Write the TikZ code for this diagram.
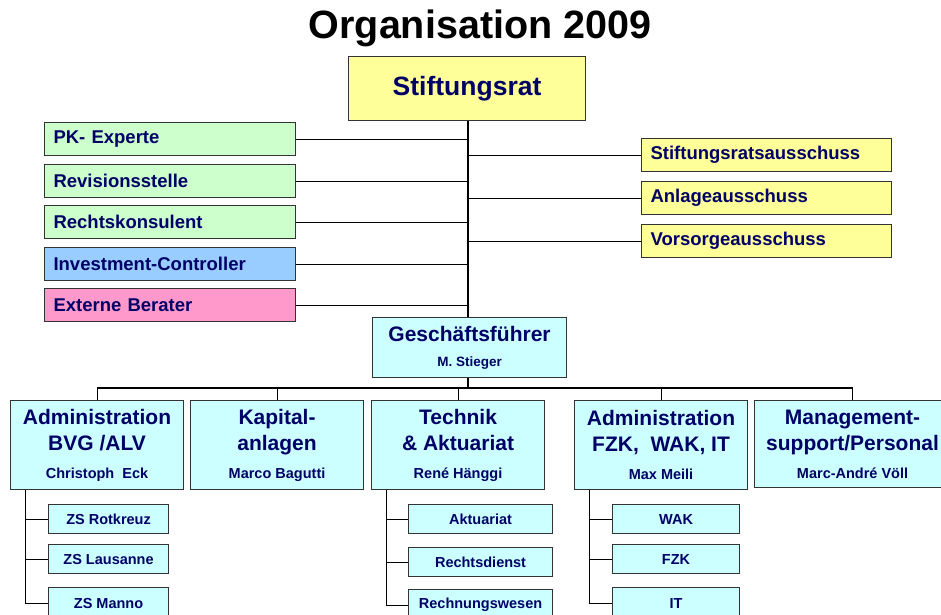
\documentclass[tikz,border=0pt]{standalone}
\usepackage{fontspec}
\setmainfont{Liberation Sans}
\definecolor{navy}{HTML}{000066}
\definecolor{boxyellow}{HTML}{FFFF99}
\definecolor{boxgreen}{HTML}{CCFFCC}
\definecolor{boxblue}{HTML}{99CCFF}
\definecolor{boxpink}{HTML}{FF99CC}
\definecolor{boxcyan}{HTML}{CCFFFF}
\definecolor{frame}{HTML}{333333}
\newcommand{\persfont}{\fontsize{14.5}{17}\selectfont}
\begin{document}
\begin{tikzpicture}[x=1pt,y=-1pt,
  box/.style={draw=frame, line width=1.1pt, text=navy, inner sep=0pt, anchor=north west},
  sidebox/.style={box, minimum height=33pt, inner xsep=9pt, text width=233pt, align=left,
    font=\fontsize{18.5}{21}\bfseries\selectfont},
  dept/.style={box, fill=boxcyan, minimum height=89pt, minimum width=173pt, align=center,
    font=\fontsize{21}{26}\bfseries\selectfont},
  sub/.style={box, fill=boxcyan, minimum height=29pt, minimum width=#1, align=center,
    font=\fontsize{14.5}{17}\bfseries\selectfont},
  link/.style={draw=black, line width=1.1pt}]
\clip (0,0) rectangle (941,614);
\fill[white] (0,0) rectangle (941,614);

% title
\node[font=\fontsize{39.5}{44}\bfseries\selectfont] (title) at (480,28) {Organisation 2009};

% board
\node[box, fill=boxyellow, minimum width=237pt, minimum height=64pt,
  font=\fontsize{26.5}{30}\bfseries\selectfont] (rat) at (348,56) {Stiftungsrat};

% advisors on the left
\node[sidebox, fill=boxgreen] (pk)   at (44,122) {PK- Experte};
\node[sidebox, fill=boxgreen] (rev)  at (44,164) {Revisionsstelle};
\node[sidebox, fill=boxgreen] (recht) at (44,205) {Rechtskonsulent};
\node[sidebox, fill=boxblue]  (inv)  at (44,247) {Investment-Controller};
\node[sidebox, fill=boxpink]  (ext)  at (44,288) {Externe Berater};

% committees on the right
\node[sidebox, fill=boxyellow, text width=232pt] (sra)  at (641,138) {Stiftungsratsausschuss};
\node[sidebox, fill=boxyellow, text width=232pt] (anl)  at (641,181) {Anlageausschuss};
\node[sidebox, fill=boxyellow, text width=232pt] (vors) at (641,224) {Vorsorgeausschuss};

% management
\node[box, fill=boxcyan, minimum width=194pt, minimum height=60pt, align=center,
  font=\fontsize{21}{25}\bfseries\selectfont] (gf) at (372,317)
  {Geschäftsführer\\{\fontsize{13.5}{16}\selectfont M. Stieger}};

% departments
\node[dept] (bvg)  at (10,400)  {Administration\\BVG /ALV\\[2pt]{\persfont Christoph\ \ Eck}};
\node[dept] (kap)  at (190,400) {Kapital-\\anlagen\\[2pt]{\persfont Marco Bagutti}};
\node[dept] (tech) at (371,400) {Technik\\\& Aktuariat\\[2pt]{\persfont René Hänggi}};
\node[dept] (fzk)  at (574,400) {Administration\\FZK,\ \ WAK, IT\\[2pt]{\persfont Max Meili}};
\node[dept, minimum width=196pt, minimum height=87pt] (mgmt) at (754,400)
  {Management-\\support/Personal\\[2pt]{\persfont Marc-André Völl}};

% sub-units
\node[sub=120pt] (zs1) at (48,504) {ZS Rotkreuz};
\node[sub=120pt] (zs2) at (48,544) {ZS Lausanne};
\node[sub=120pt, minimum height=31pt] (zs3) at (48,587) {ZS Manno};
\node[sub=144pt] (akt) at (408,504) {Aktuariat};
\node[sub=144pt] (rd)  at (408,547) {Rechtsdienst};
\node[sub=144pt, minimum height=31pt] (rw)  at (408,589) {Rechnungswesen};
\node[sub=127pt] (wak) at (612,504) {WAK};
\node[sub=127pt] (fz)  at (612,544) {FZK};
\node[sub=127pt, minimum height=31pt] (it)  at (612,587) {IT};

% trunk and side links
\coordinate (trunk) at (468,0);
\draw[link] (rat.south -| trunk) -- (gf.north -| trunk);
\foreach \n in {pk,rev,recht,inv,ext} \draw[link] (\n.east) -- (\n.east -| trunk);
\foreach \n in {sra,anl,vors} \draw[link] (\n.west -| trunk) -- (\n.west);

% bus to departments
\coordinate (bus) at (0,388);
\draw[link] (gf.south -| trunk) -- (bus -| trunk);
\draw[link] (bus -| bvg.north) -- (bus -| mgmt.north);
\foreach \n in {bvg,kap,tech,fzk,mgmt} \draw[link] (bus -| \n.north) -- (\n.north);

% sub-unit links
\foreach \p/\a/\b/\c in {bvg/zs1/zs2/zs3, tech/akt/rd/rw, fzk/wak/fz/it}{
  \coordinate (\p-stem) at ([xshift=15.5pt]\p.south west);
  \draw[link] (\p-stem) |- (\c.west);
  \draw[link] (\a.west -| \p-stem) -- (\a.west);
  \draw[link] (\b.west -| \p-stem) -- (\b.west);
}
\end{tikzpicture}
\end{document}
